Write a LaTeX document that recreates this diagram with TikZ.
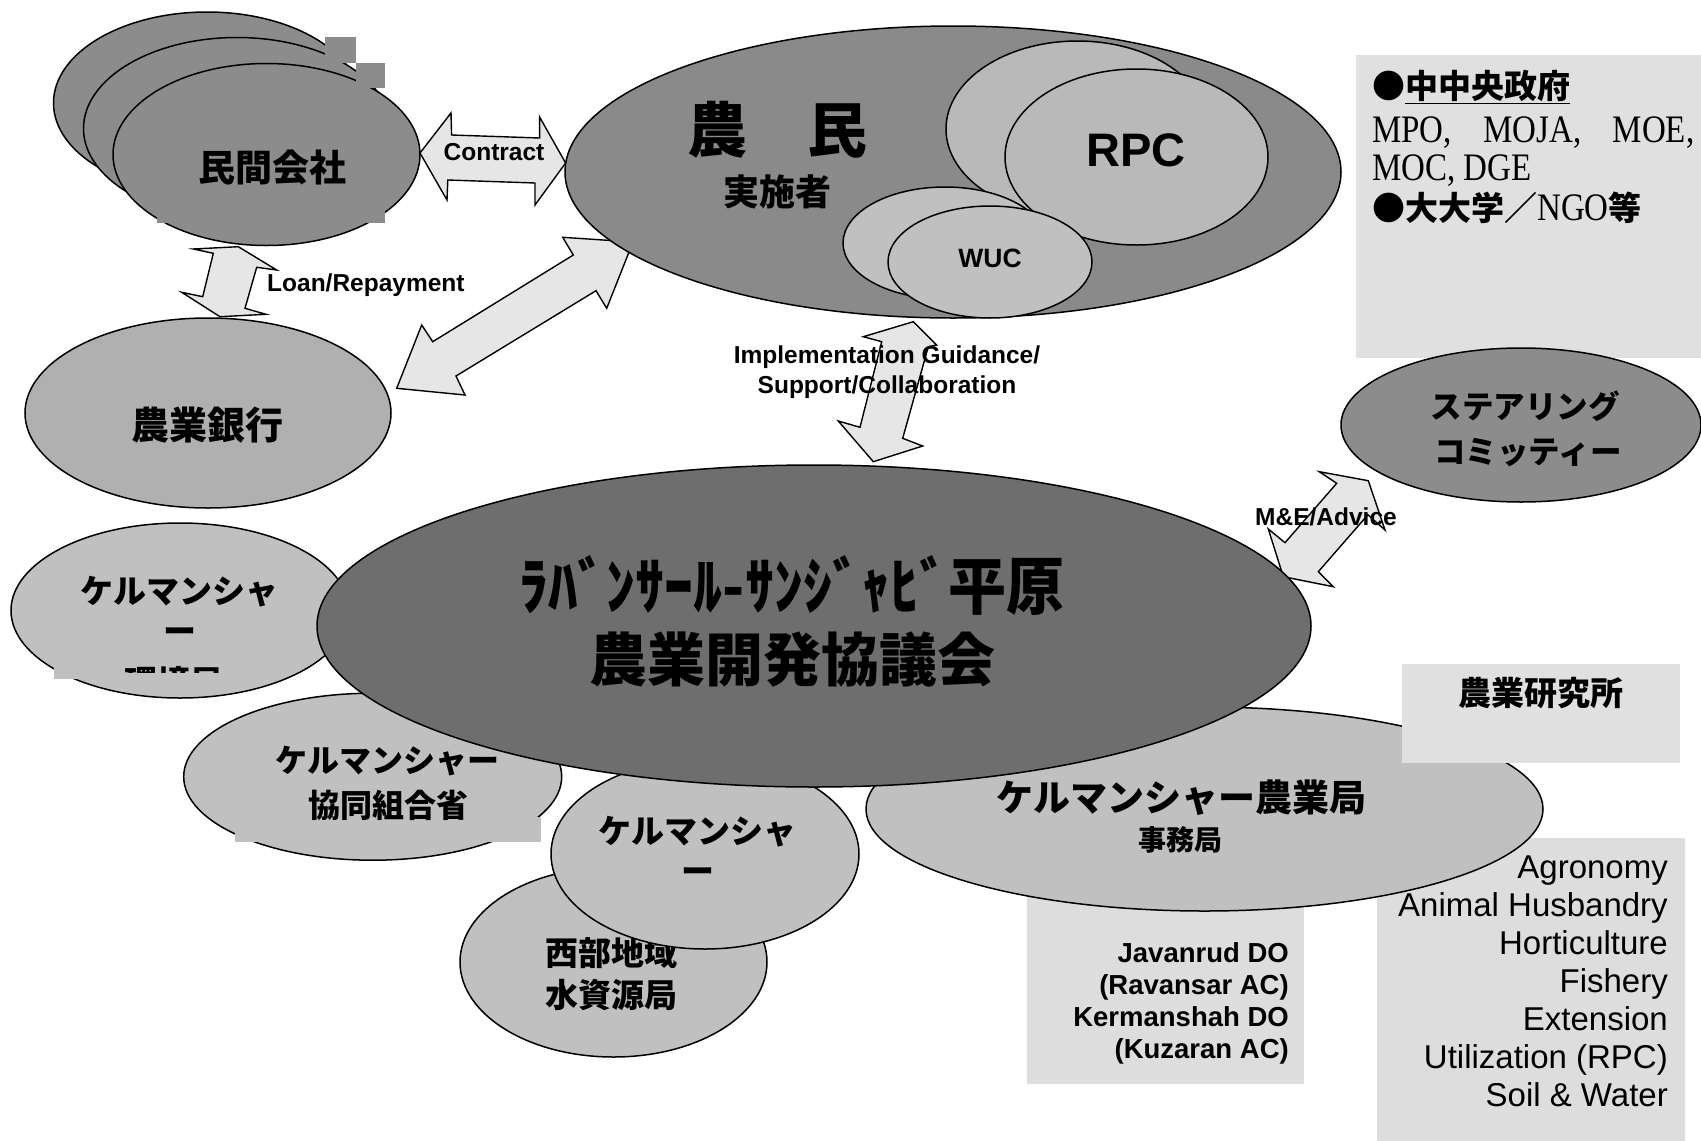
\documentclass[tikz,border=0pt]{standalone}
\usepackage{fontspec}
\usepackage{graphicx}
\setmainfont{Liberation Sans}
\newfontfamily\cjk{Noto Sans CJK JP}
\newfontfamily\serif{Liberation Serif}
\usetikzlibrary{shapes.geometric}
\definecolor{gA}{HTML}{8C8C8C}
\definecolor{gF}{HTML}{8A8A8A}
\definecolor{gR}{HTML}{B9B9B9}
\definecolor{gW}{HTML}{C0C0C0}
\definecolor{gB}{HTML}{B0B0B0}
\definecolor{gC}{HTML}{6E6E6E}
\definecolor{gBox}{HTML}{E0E0E0}
\definecolor{gBoxB}{HTML}{DDDDDD}
\definecolor{gArr}{HTML}{E6E6E6}
\newcommand\fsz[1]{\fontsize{#1pt}{#1pt}\selectfont}
\begin{document}
\begin{tikzpicture}[x=1pt,y=-1pt,
  ell/.style={ellipse,draw=black,line width=1.5pt,inner sep=0pt},
  arr/.style={draw=black,fill=gArr,line width=1.4pt,line join=miter},
  jp/.style={inner sep=0pt,font={\cjk\bfseries\fsz{#1}}},
  lab/.style={inner sep=0pt,font={\bfseries\fsz{24.5}}},
  bx/.style={rectangle,draw=none,inner sep=0pt,anchor=north west}]
\useasboundingbox[fill=white] (0,0) rectangle (1701,1141);

% ---------- boxes (background)
\node[bx,fill=gBox,minimum width=345pt,minimum height=303pt] (govbox) at (1356,55) {};
\node[bx,fill=gBoxB,minimum width=277pt,minimum height=214pt] (dobox) at (1027,870) {};
\node[bx,fill=gBoxB,minimum width=308pt,minimum height=303pt] (secbox) at (1377,838) {};

% ---------- block arrows
\draw[arr] (420,153) -- (451,113) -- (451.6,135) -- (539.6,138) -- (539.6,117) -- (565.6,163) -- (535,205) -- (535,183) -- (447.8,180) -- (447,200) -- cycle;
\draw[arr] (193.3,249) -- (238.3,246.7) -- (276.7,270) -- (256.7,267.3) -- (245,308.3) -- (266,314.3) -- (220,316.7) -- (181.7,292.3) -- (202.7,296.7) -- (213.3,253.3) -- cycle;
\draw[arr] (633,242) -- (606.7,308.3) -- (596,290.7) -- (456,376) -- (465,395) -- (396.7,388.3) -- (421.7,325) -- (432.7,341.7) -- (573.3,255) -- (562.7,237.3) -- cycle;
\draw[arr] (913.3,321.7) -- (936.7,345) -- (928.3,346.7) -- (902.7,438.3) -- (922.7,446) -- (873.3,461.7) -- (838.3,421) -- (860,427.3) -- (881.7,341.7) -- (863.3,336.7) -- cycle;
\draw[arr] (1319.3,471.7) -- (1368.3,480.7) -- (1385,530) -- (1367.9,514.8) -- (1318.3,571.7) -- (1333.3,586.7) -- (1283.3,576.7) -- (1268.3,529) -- (1285,542.7) -- (1336.7,483.3) -- cycle;

% ---------- private companies (stack)
\node[ell,fill=gA,minimum width=307pt,minimum height=182pt] (coA) at (207,103) {};
\node[ell,fill=gA,minimum width=307pt,minimum height=182pt] (coB) at (237,128.5) {};
\fill[gA] (325,37) rectangle (356,63);
\node[ell,fill=gA,minimum width=307pt,minimum height=182pt] (coC) at (266.5,154.5) {};
\fill[gA] (356,63) rectangle (385,88);
\fill[gA] (157,210) rectangle (385,223);
\node[jp=37] (tco) at (272,167) {民間会社};

% ---------- farmers
\node[ell,fill=gF,minimum width=776pt,minimum height=292pt] (farm) at (953,172) {};
\node[ell,fill=gR,minimum width=263pt,minimum height=176pt] (rpcB) at (1077.5,129) {};
\node[ell,fill=gR,minimum width=263pt,minimum height=176pt] (rpc) at (1136.5,157) {};
\node[ell,fill=gW,minimum width=204pt,minimum height=112pt] (wucB) at (945,243) {};
\node[ell,fill=gW,minimum width=204pt,minimum height=112pt] (wuc) at (990,262) {};
\node[jp=60] (tfarm) at (777,130) {農　民};
\node[jp=36] (timpl) at (777,192) {実施者};
\node[inner sep=0pt,font={\bfseries\fsz{47}}] (trpc) at (1136,150) {RPC};
\node[inner sep=0pt,font={\bfseries\fsz{26.5}}] (twuc) at (990,258) {WUC};

% ---------- agricultural bank
\node[ell,fill=gB,minimum width=366pt,minimum height=190pt] (bank) at (208,413) {};
\node[jp=38] (tbank) at (207,425) {農業銀行};

% ---------- steering committee
\node[ell,fill=gA,minimum width=360pt,minimum height=154pt] (steer) at (1521,425) {};
\node[jp=31.5] (tst1) at (1525,406) {ステアリング};
\node[jp=31.5] (tst2) at (1528,453) {コミッティー};

% ---------- Kermanshah environment
\node[ell,fill=gW,minimum width=338pt,minimum height=175pt] (env) at (180,610.5) {};
\fill[gW] (54,665) rectangle (250,679);
\node[jp=33] (tenv1) at (179,592) {ケルマンシャ};
\node[jp=33] (tenv2) at (180,636) {ー};
\begin{scope}
\clip (0,600) rectangle (400,672);
\node[jp=33] (tenv3) at (174,682) {環境局};
\end{scope}

% ---------- Kermanshah cooperatives
\node[ell,fill=gW,minimum width=378pt,minimum height=167pt] (coop) at (372.7,776.7) {};
\fill[gW] (235,817) rectangle (541,842);
\node[jp=32] (tcoop1) at (387,761) {ケルマンシャー};
\node[jp=32] (tcoop2) at (388,805) {協同組合省};

% ---------- western water
\node[ell,fill=gW,minimum width=307pt,minimum height=190pt] (water) at (613.5,962) {};
\node[jp=33] (twat1) at (611,953) {西部地域};
\node[jp=33] (twat2) at (611,995) {水資源局};

% ---------- Kermanshah circle
\node[ell,fill=gW,minimum width=308pt,minimum height=190pt] (kcir) at (705,854) {};
\node[jp=33] (tk1) at (697,832) {ケルマンシャ};
\node[jp=33] (tk2) at (698,876) {ー};

% ---------- agriculture bureau
\node[ell,fill=gW,minimum width=677pt,minimum height=204pt] (agri) at (1204.5,809) {};
\node[jp=37] (tagri1) at (1181,798) {ケルマンシャー農業局};
\node[jp=28] (tagri2) at (1180,840) {事務局};

% ---------- central council
\node[ell,fill=gC,minimum width=994pt,minimum height=322pt] (council) at (814,626) {};
\node[jp=58] (tc1) at (792,585) {\scalebox{1}[1.08]{ﾗﾊﾞﾝｻｰﾙ-ｻﾝｼﾞｬﾋﾞ平原}};
\node[jp=58] (tc2) at (792,660) {農業開発協議会};

% ---------- research institute
\node[bx,fill=gBox,minimum width=278pt,minimum height=99pt] (resbox) at (1402,664) {};
\node[jp=33] (tres) at (1541,693) {農業研究所};

% ---------- box texts
\node[inner sep=0pt,anchor=base west] (g1) at (1372,98) {{\cjk\bfseries\fsz{33}●\underline{中中央政府}}};
\node[inner sep=0pt,anchor=base west] (g2) at (1372,142) {\scalebox{1}[1.18]{\serif\fsz{33}MPO,\hspace{0.95em}MOJA,\hspace{0.95em}MOE,}};
\node[inner sep=0pt,anchor=base west] (g3) at (1372,180) {\scalebox{1}[1.18]{\serif\fsz{33}MOC, DGE}};
\node[inner sep=0pt,anchor=base west] (g4) at (1372,220) {{\cjk\bfseries\fsz{33}●大大学／}\scalebox{1}[1.18]{\serif\fsz{33}NGO}{\cjk\bfseries\fsz{33}等}};

\foreach \t [count=\i from 0] in {Javanrud DO,(Ravansar AC),Kermanshah DO,(Kuzaran AC)}
  \node[inner sep=0pt,anchor=base east,font={\bfseries\fsz{27.5}}] (do\i) at (1289,962+32.2*\i) {\t};
\foreach \t [count=\i from 0] in {Agronomy,Animal Husbandry,Horticulture,Fishery,Extension,Utilization (RPC),Soil \& Water}
  \node[inner sep=0pt,anchor=base east,font={\fsz{33}}] (sec\i) at (1668,878.5+38*\i) {\t};

% ---------- arrow labels
\node[lab] (lcon) at (494,152) {Contract};
\node[lab,anchor=base west] (lloan) at (267,291) {Loan/Repayment};
\node[lab,anchor=base] (limp1) at (887,363) {Implementation Guidance/};
\node[lab,anchor=base] (limp2) at (887,393) {Support/Collaboration};
\node[lab,anchor=base] (lme) at (1326,525) {M\&E/Advice};
\end{tikzpicture}
\end{document}
